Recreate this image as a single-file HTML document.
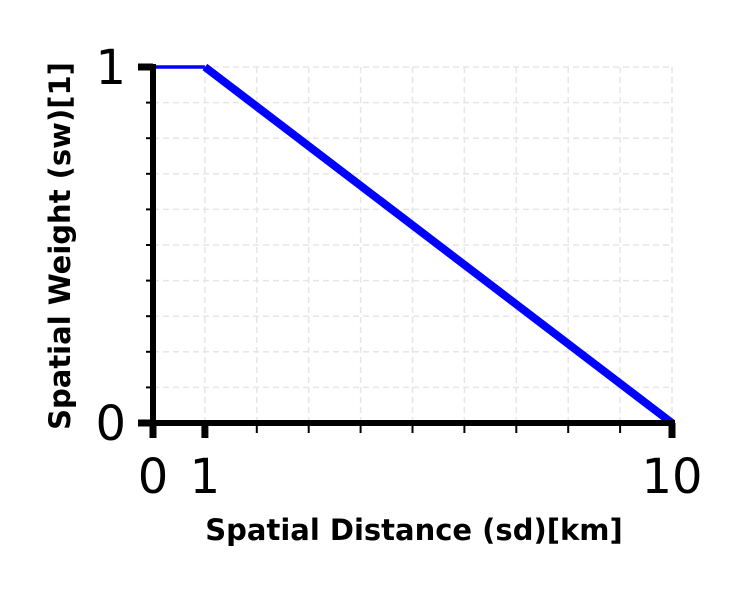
<!DOCTYPE html>
<html><head><meta charset="utf-8"><style>
body{margin:0;background:#fff}
svg text{font-family:"DejaVu Sans","Liberation Sans",sans-serif}
</style></head><body>
<svg id="chart" width="750" height="600">
<g id="grid"></g>
<g id="series"></g>
<g id="axes"></g>
<text x="414" y="540" text-anchor="middle" font-size="29" font-weight="bold">Spatial Distance (sd)[km]</text>
<text transform="translate(70,246) rotate(-90)" text-anchor="middle" font-size="29" font-weight="bold">Spatial Weight (sw)[1]</text>
</svg>
<script>
const xVals=[0,1,10];
const yVals=[1,1,0];
const xTickLabels=["0","1","10"];
const yTickLabels=["0","1"];
const yTickVals=[0,1];
const NS="http://www.w3.org/2000/svg";
const X0=153,X1=672,Y0=423,Y1=67;
const sx=v=>X0+(v-0)/(10-0)*(X1-X0);
const sy=v=>Y0-(v-0)/(1-0)*(Y0-Y1);
function mk(tag,attrs,parent){const e=document.createElementNS(NS,tag);for(const k in attrs)e.setAttribute(k,attrs[k]);document.getElementById(parent).appendChild(e);return e;}
for(let i=1;i<=10;i++){
 const l=mk('line',{x1:sx(i),x2:sx(i),y1:sy(0),y2:sy(1),stroke:'#e6e6e6','stroke-width':1.5,'stroke-dasharray':'6,4'},'grid');
 
 
}
for(let i=1;i<=10;i++){
 const l=mk('line',{x1:sx(0),x2:sx(10),y1:sy(i/10),y2:sy(i/10),stroke:'#e6e6e6','stroke-width':1.5,'stroke-dasharray':'6,4'},'grid');
 
 
}
for(let i=0;i<xVals.length-1;i++){
 const l=mk('line',{x1:sx(xVals[i]),y1:sy(yVals[i]),x2:sx(xVals[i+1]),y2:sy(yVals[i+1]),stroke:'#0000ff','stroke-width':i===0?3.5:8,'stroke-linecap':'butt'},'series');
 
 
}
let a=mk('line',{x1:X0-3,x2:X1+3,y1:Y0,y2:Y0,stroke:'#000','stroke-width':6},'axes');


a=mk('line',{x1:X0,x2:X0,y1:Y1-3,y2:Y0+3,stroke:'#000','stroke-width':6},'axes');


for(let i=1;i<=9;i++){
 const t=mk('line',{x1:sx(i),x2:sx(i),y1:Y0,y2:Y0+10,stroke:'#000','stroke-width':2},'axes');
 
 
 const u=mk('line',{x1:X0-7,x2:X0,y1:sy(i/10),y2:sy(i/10),stroke:'#000','stroke-width':2},'axes');
 
 
}
xTickLabels.forEach(s=>{
 const v=+s;
 const t=mk('line',{x1:sx(v),x2:sx(v),y1:Y0,y2:Y0+15,stroke:'#000','stroke-width':7},'axes');
 
 
 const tx=mk('text',{x:sx(v),y:Y0+70,'text-anchor':'middle','font-size':48},'axes');
 tx.textContent=s;
 
 
});
yTickVals.forEach((v,i)=>{
 const t=mk('line',{x1:X0-15,x2:X0,y1:sy(v),y2:sy(v),stroke:'#000','stroke-width':7},'axes');
 
 
 const tx=mk('text',{x:X0-27,y:sy(v)+17,'text-anchor':'end','font-size':48},'axes');
 tx.textContent=yTickLabels[i];
 
 
});
</script>
</body></html>
